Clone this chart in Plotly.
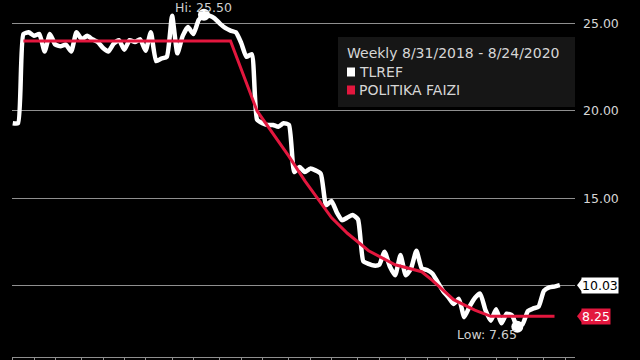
import numpy as np
import pandas as pd
import plotly.graph_objects as go

# ---------------- data ----------------
start_date = "2018-08-31"
n_weeks = 104
dates = pd.date_range(start_date, periods=n_weeks, freq="7D")

tlref = [
    19.3, 19.3, 24.4, 24.5, 24.3, 24.4, 23.4, 24.4, 23.8, 23.7,
    23.8, 23.4, 24.5, 24.1, 24.3, 24.1, 23.95, 23.6, 23.4, 23.85,
    24.05, 23.5, 24.05, 23.95, 24.1, 23.45, 24.5, 22.85, 23.0, 23.1,
    25.45, 23.3, 24.3, 24.8, 24.4, 25.2, 25.5, 25.45, 25.3, 25.0,
    24.75, 24.6, 24.5, 23.9, 23.1, 23.25, 19.5, 19.3, 19.2, 19.2,
    19.1, 19.3, 19.2, 16.5, 16.8, 16.5, 16.7, 16.6, 16.4, 14.6,
    14.85, 14.2, 13.75, 13.9, 14.05, 13.8, 11.4, 11.25, 11.15, 11.2,
    11.95, 11.1, 10.6, 11.75, 10.6, 11.0, 12.0, 11.0, 10.9, 10.7,
    10.2, 9.7, 9.35, 8.95, 9.25, 8.2, 8.8, 9.3, 9.55, 8.6,
    8.0, 8.65, 7.85, 8.4, 8.3, 7.65, 7.8, 8.55, 8.7, 8.8,
    9.7, 9.9, 9.95, 10.03,
]

policy_dates = [
    "2018-09-14", "2019-06-14", "2019-07-19", "2019-08-30", "2019-09-20",
    "2019-10-25", "2019-11-15", "2019-12-13", "2020-01-17", "2020-02-21",
    "2020-03-06", "2020-04-03", "2020-05-01", "2020-05-22", "2020-08-14",
]
policy_values = [
    24.0, 24.0, 20.0, 17.4, 16.0,
    13.9, 13.0, 12.0, 11.2, 10.8,
    10.3, 9.2, 8.6, 8.25, 8.25,
]

y_ticks = [10, 15, 20, 25]
legend_title = "Weekly 8/31/2018 - 8/24/2020"
series_names = ["TLREF", "POLITIKA FAIZI"]

# ---------------- style ----------------
WHITE = "#ffffff"
RED = "#e3173e"
GRID = "#8f8f8f"
TXT = "#d6d6d6"
FONT = "DejaVu Sans"

W, H = 640, 360
ML, MR, MT, MB = 12, 65, 0, 3
PW, PH = W - ML - MR, H - MT - MB


def px_x(p):
    return (p - ML) / PW


def px_y(p):
    return 1 - (p - MT) / PH


fig = go.Figure()

fig.add_trace(go.Scatter(x=dates, y=tlref, mode="lines",
                         line=dict(color=WHITE, width=4.5, shape="spline", smoothing=0.5),
                         name=series_names[0], hoverinfo="skip"))
fig.add_trace(go.Scatter(x=pd.to_datetime(policy_dates), y=policy_values, mode="lines",
                         line=dict(color=RED, width=3),
                         name=series_names[1], hoverinfo="skip"))

tl = np.array(tlref)
imax, imin = int(tl.argmax()), int(tl.argmin())
fig.add_trace(go.Scatter(x=[dates[imax], dates[imin]], y=[tl[imax], tl[imin]],
                         mode="markers", marker=dict(color=WHITE, size=12),
                         hoverinfo="skip", showlegend=False))

# high / low labels
fig.add_annotation(x=dates[imax], y=tl[imax], text=f"Hi: {tl[imax]:.2f}",
                   showarrow=False, yshift=7, xanchor="center", yanchor="middle",
                   font=dict(family=FONT, size=12.5, color="#cfcfcf"))
fig.add_annotation(x=dates[imin], y=tl[imin], text=f"Low: {tl[imin]:.2f}",
                   showarrow=False, yshift=-8, xshift=2, xanchor="right", yanchor="middle",
                   font=dict(family=FONT, size=12.5, color="#cfcfcf"))

# last value tags
for val, bg, fg in [(tlref[-1], WHITE, "#000000"), (policy_values[-1], RED, WHITE)]:
    fig.add_shape(type="path", xref="paper", yref="y", xsizemode="pixel", ysizemode="pixel",
                  xanchor=1, yanchor=val, path="M 2 0 L 7 -6.5 L 7 6.5 Z",
                  fillcolor=bg, line=dict(width=0))
    fig.add_annotation(x=1, xref="paper", y=val, yref="y", text=f"{val:.2f}",
                       showarrow=False, xanchor="left", yanchor="middle", xshift=6,
                       bgcolor=bg, borderpad=0,
                       font=dict(family=FONT, size=12.5, color=fg))

# legend box
fig.add_shape(type="rect", xref="paper", yref="paper",
              x0=px_x(338), x1=px_x(575), y0=px_y(107), y1=px_y(37),
              fillcolor="#161616", line=dict(width=0), layer="above")
fig.add_annotation(x=px_x(345), y=px_y(53), xref="paper", yref="paper",
                   text=legend_title, showarrow=False, xanchor="left", yanchor="middle",
                   font=dict(family=FONT, size=14, color=TXT))
for i, (name, col) in enumerate(zip(series_names, [WHITE, RED])):
    cy = 72 + 18 * i
    fig.add_shape(type="rect", xref="paper", yref="paper",
                  x0=px_x(347), x1=px_x(355), y0=px_y(cy + 4.5), y1=px_y(cy - 4.5),
                  fillcolor=col, line=dict(width=0), layer="above")
    fig.add_annotation(x=px_x(357), y=px_y(cy), xref="paper", yref="paper",
                       text=name, showarrow=False, xanchor="left", yanchor="middle",
                       font=dict(family=FONT, size=14, color=TXT))

# axes
tick_src = pd.Series(pd.date_range(start_date, "2020-08-28", freq="7D"))
tickvals = tick_src.groupby(tick_src.dt.to_period("M")).max().tolist()
x0 = pd.Timestamp(start_date) - pd.Timedelta(days=1)
x1 = pd.Timestamp(start_date) + pd.Timedelta(days=741)

fig.update_xaxes(range=[x0, x1], showgrid=False, zeroline=False, showline=True,
                 linecolor=GRID, linewidth=1, ticks="outside", ticklen=4,
                 tickcolor=GRID, tickwidth=1, tickvals=tickvals, showticklabels=False)
fig.update_yaxes(side="right", range=[5.92, 26.35], tickvals=y_ticks, tickformat=".2f",
                 showgrid=True, gridcolor=GRID, gridwidth=1, zeroline=False,
                 ticks="", ticklabelstandoff=7,
                 tickfont=dict(family=FONT, size=12.5, color=TXT))

fig.update_layout(width=W, height=H, margin=dict(l=ML, r=MR, t=MT, b=MB),
                  paper_bgcolor="#000000", plot_bgcolor="#000000", showlegend=False,
                  font=dict(family=FONT, color=TXT))

fig.write_html("out.html")
